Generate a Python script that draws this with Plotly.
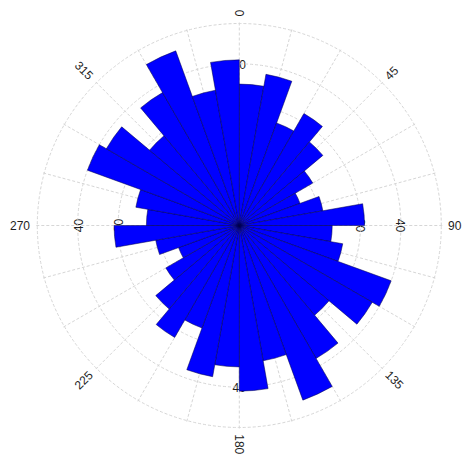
import math
import plotly.graph_objects as go

# Rose diagram: 36 sectors of 10 degrees, counts per sector
sector_start = list(range(0, 360, 10))
counts = [35, 38, 27, 32, 27, 21, 16, 21, 31, 23, 26, 40, 38, 29, 38, 46, 34, 41,
          35, 38, 27, 32, 27, 21, 16, 21, 31, 23, 26, 40, 38, 29, 38, 46, 34, 41]
sector_width = 10

# Axis settings
r_max = 50.4            # a little beyond the last ring so the 50 circle is drawn
radial_ticks = [10, 20, 30, 40]
radial_grid = [10, 20, 30, 40, 50]
angular_grid = list(range(0, 360, 15))
angle_labels = [0, 45, 90, 135, 180, 225, 270, 315]
radial_label_dirs = [0, 90, 180, 270]

W, H = 465, 457
cx_px, cy_px = 239.3, 225.5          # centre of the polar area (px from top-left)
px_per_unit = 4.04
R_px = r_max * px_per_unit            # radius of the polar area in px
rim_px = 50 * px_per_unit             # radius of the outermost ring

dom_x = [(cx_px - R_px) / W, (cx_px + R_px) / W]
dom_y = [(H - cy_px - R_px) / H, (H - cy_px + R_px) / H]

FONT = "Liberation Sans, Arial, sans-serif"
TXT = "#1e1e1e"
GRID = "#d6d6d6"
DASH = "3px,2px"


def to_paper(r_px, theta_deg):
    """Paper coordinates of a point at radius r_px (pixels) and compass angle theta."""
    t = math.radians(theta_deg)
    x = cx_px + r_px * math.sin(t)
    y = cy_px - r_px * math.cos(t)
    return x / W, (H - y) / H


fig = go.Figure()
fig.add_trace(go.Barpolar(
    r=counts,
    theta=[s + sector_width / 2 for s in sector_start],
    width=[sector_width] * len(counts),
    marker=dict(color="#0000ff", line=dict(color="rgba(0,0,70,0.85)", width=0.6)),
    hoverinfo="skip",
))

# Compass labels around the rim, oriented along the radius
annotations = []
for a in angle_labels:
    txt = str(a)
    w = 6.7 * len(txt)
    xp, yp = to_paper(rim_px + 7 + w / 2, a)
    ang = a - 90
    while ang > 90:
        ang -= 180
    while ang <= -90:
        ang += 180
    annotations.append(dict(
        x=xp, y=yp, xref="paper", yref="paper", text=txt, showarrow=False,
        textangle=ang, xanchor="center", yanchor="middle",
        font=dict(family=FONT, size=12, color=TXT),
    ))

# Radial scale labels along the four main directions, kept beneath the bars
shapes = []
for d in radial_label_dirs:
    rot = {0: 0, 180: 0, 90: 90, 270: -90}[d]
    for v in radial_ticks:
        xp, yp = to_paper(v * px_per_unit, d)
        shapes.append(dict(
            type="rect", xref="paper", yref="paper", layer="below",
            x0=xp - 0.001, x1=xp + 0.001, y0=yp - 0.001, y1=yp + 0.001,
            line=dict(width=0), fillcolor="rgba(0,0,0,0)",
            label=dict(text=str(v), textangle=rot, textposition="middle center",
                       font=dict(family=FONT, size=12, color=TXT)),
        ))

fig.update_layout(
    width=W, height=H,
    margin=dict(l=0, r=0, t=0, b=0),
    paper_bgcolor="white",
    showlegend=False,
    polar=dict(
        domain=dict(x=dom_x, y=dom_y),
        bgcolor="rgba(0,0,0,0)",
        angularaxis=dict(
            rotation=90, direction="clockwise",
            tickmode="array", tickvals=angular_grid,
            showticklabels=False, ticks="", showline=False,
            gridcolor=GRID, griddash=DASH, gridwidth=1,
        ),
        radialaxis=dict(
            range=[0, r_max], tickmode="array", tickvals=radial_grid,
            showticklabels=False, ticks="", showline=False,
            gridcolor=GRID, griddash=DASH, gridwidth=1,
        ),
    ),
    annotations=annotations,
    shapes=shapes,
)

fig.write_html("out.html")
